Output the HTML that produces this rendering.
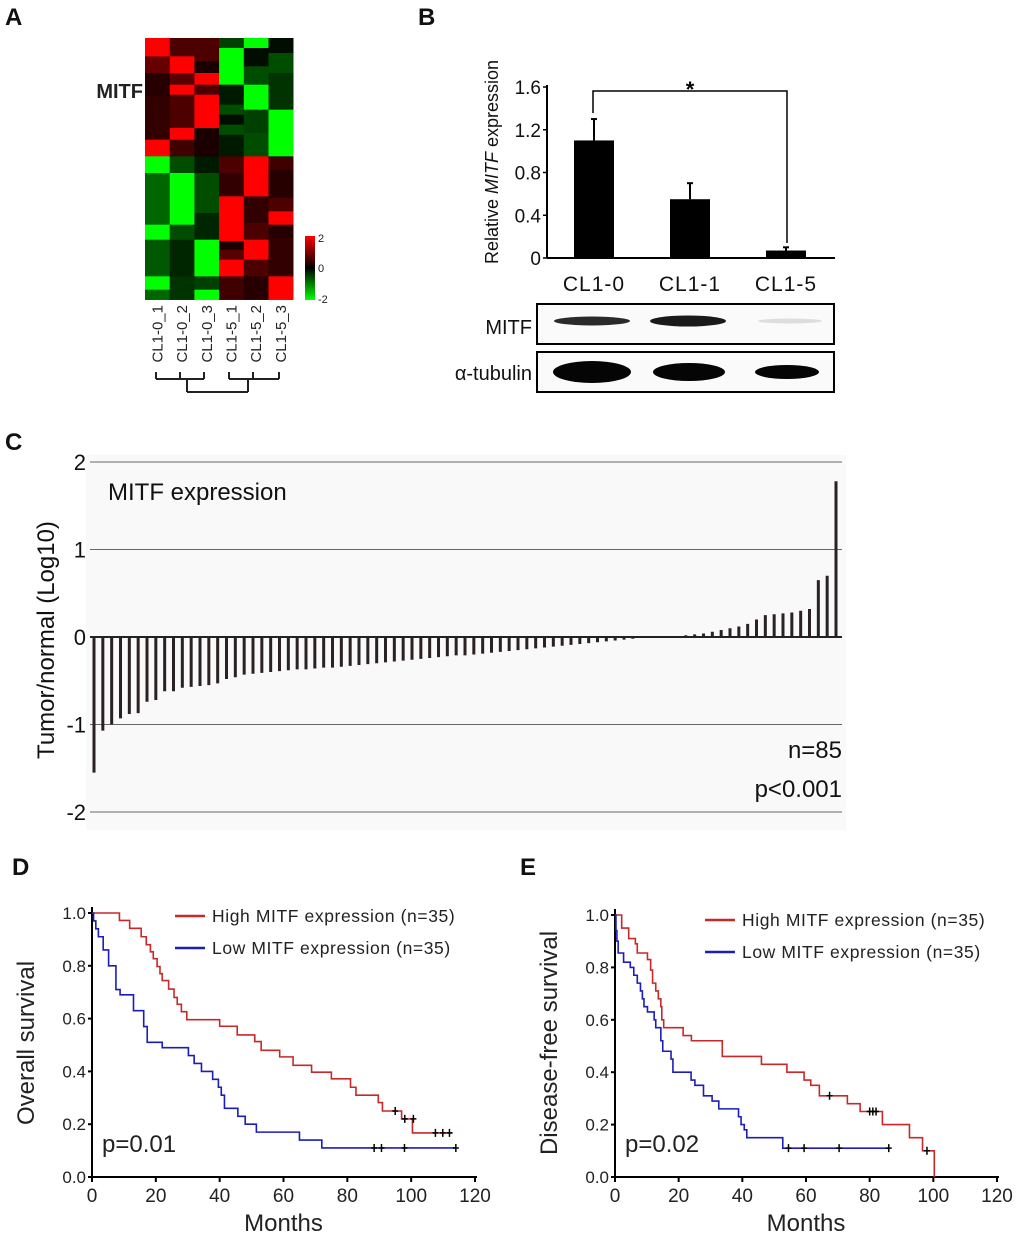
<!DOCTYPE html>
<html><head><meta charset="utf-8"><style>
body{margin:0;background:#fff}
svg{display:block;font-family:"Liberation Sans",Arial,sans-serif}
</style></head><body>
<svg id="fig" width="1020" height="1238" viewBox="0 0 1020 1238" xmlns="http://www.w3.org/2000/svg">
<g font-weight="bold" font-size="24" fill="#111">
<text x="5" y="25">A</text>
<text x="418" y="25">B</text>
<text x="5" y="450">C</text>
<text x="12" y="875">D</text>
<text x="520" y="875">E</text>
</g>
<g id="heat"></g>
<g id="bars"></g>
<g id="blot"></g>
<g id="wf"></g>
<g id="kmd"></g>
<g id="kme"></g>
</svg>
<script>
const heatSamples = ["CL1-0_1","CL1-0_2","CL1-0_3","CL1-5_1","CL1-5_2","CL1-5_3"];
const heatCol1 = [[25,80,2],[80,130,.8],[130,200,.3],[200,330,.4],[330,380,2],[380,430,-2],[430,585,-.8],[585,630,-2],[630,740,-.7],[740,780,-2],[780,810,-.8]];
const heatCol2 = [[25,80,.6],[80,130,2],[130,165,.7],[165,195,2],[195,295,.6],[295,330,2],[330,380,.5],[380,430,-.6],[430,585,-2],[585,630,-.6],[630,740,-.3],[740,810,-.4]];
const heatCol3 = [[25,95,.6],[95,130,.2],[130,165,2],[165,195,.6],[195,295,2],[295,380,.2],[380,430,-.2],[430,550,-.6],[550,630,-.3],[630,740,-2],[740,780,-.5],[780,810,-2]];
const heatCol4 = [[25,55,-.5],[55,165,-2],[165,225,-.2],[225,255,-.6],[255,285,-.1],[285,315,-.6],[315,380,-.2],[380,430,.6],[430,500,.4],[500,635,2],[635,660,.2],[660,690,.7],[690,740,2],[740,810,.5]];
const heatCol5 = [[25,55,-2],[55,110,-.1],[110,165,-.6],[165,240,-2],[240,310,-.5],[310,380,-.6],[380,500,2],[500,580,.4],[580,630,.6],[630,690,2],[690,740,.6],[740,810,.3]];
const heatCol6 = [[25,70,-.1],[70,130,-.6],[130,240,-.4],[240,380,-2],[380,420,.5],[420,505,.3],[505,545,.6],[545,585,2],[585,625,.3],[625,740,.4],[740,810,2]];
const bCats = ["CL1-0","CL1-1","CL1-5"];
const bVals = [1.1,0.55,0.07];
const bErr = [0.2,0.15,0.03];
const bTicks = [0,0.4,0.8,1.2,1.6];
const bTickLabels = ["0","0.4","0.8","1.2","1.6"];
const cVals = [-1.55,-1.07,-1.0,-0.93,-0.88,-0.87,-0.74,-0.72,-0.62,-0.62,
-0.58,-0.57,-0.56,-0.55,-0.53,-0.48,-0.46,-0.43,-0.42,-0.41,
-0.40,-0.39,-0.38,-0.37,-0.37,-0.36,-0.35,-0.35,-0.34,-0.33,
-0.32,-0.31,-0.30,-0.29,-0.28,-0.27,-0.26,-0.25,-0.24,-0.23,
-0.22,-0.21,-0.21,-0.20,-0.19,-0.18,-0.17,-0.16,-0.15,-0.14,
-0.13,-0.12,-0.11,-0.10,-0.09,-0.08,-0.07,-0.06,-0.05,-0.04,-0.03,-0.02,
-0.01,-0.01,-0.005,0,0,
0.02,0.03,0.04,0.06,0.08,0.1,0.12,0.15,0.2,0.25,0.26,0.27,0.28,0.3,0.32,0.65,0.7,1.78];
const cTicks = [2,1,0,-1,-2];
const cTickLabels = ["2","1","0","-1","-2"];
const dHighT = [0,8.6,11.8,15.4,17,18.3,19.2,20.4,21.3,22,24,25.7,26.7,28,29.7,40,45.5,51,53,58.8,63,68.8,75,81,82.7,89.7,91,97,100.4];
const dHighS = [1,.972,.942,.91,.88,.853,.827,.797,.77,.744,.712,.68,.654,.626,.596,.571,.538,.513,.48,.455,.423,.397,.372,.34,.31,.282,.25,.22,.167];
const dHighCensT = [95,98,100.7,107.6,109.9,112];
const dHighCensS = [.25,.22,.22,.167,.167,.167];
const dHighEnd = 113;
const dLowT = [0,0.5,1.2,2,3.5,5.2,7.5,8.8,13,16.2,17.3,22,30.2,32,34.3,37.8,39.6,40.5,41.5,45.7,48,51.5,65,72];
const dLowS = [1,.97,.94,.91,.86,.80,.71,.69,.63,.57,.51,.49,.46,.43,.40,.37,.34,.31,.26,.23,.20,.17,.14,.11];
const dLowCensT = [88.4,90.7,97.9,114];
const dLowCensS = [.11,.11,.11,.11];
const dLowEnd = 114;
const eHighT = [0,2.1,4.3,6.4,7,10.2,11.2,11.8,12.8,13.6,14.4,14.7,15.3,21.4,24,33.7,46,54,59.4,61.5,64.2,73,77,84,92.5,96.6,100.3];
const eHighS = [1,.95,.91,.89,.855,.83,.79,.74,.71,.68,.65,.60,.57,.54,.52,.46,.43,.40,.37,.35,.31,.28,.25,.20,.15,.10,0];
const eHighCensT = [67.4,80,81,82,98];
const eHighCensS = [.31,.25,.25,.25,.10];
const eHighEnd = 100.3;
const eLowT = [0,0.3,0.6,1,2.7,4.8,5.9,7,8,8.6,9.1,10.2,12.3,12.8,14.4,15,17.6,18.2,23.9,25.1,27.8,30.5,32.6,38.8,39.6,40.6,41.4,52.7];
const eLowS = [1,.94,.9,.855,.82,.80,.77,.74,.71,.68,.65,.63,.60,.57,.52,.48,.45,.40,.37,.35,.31,.29,.26,.23,.20,.18,.15,.11];
const eLowCensT = [54.5,59.4,70.4,86];
const eLowCensS = [.11,.11,.11,.11];
const eLowEnd = 86;
const kmXTicks = [0,20,40,60,80,100,120];
const kmYTicks = [0,0.2,0.4,0.6,0.8,1.0];
const kmYTickLabels = ["0.0","0.2","0.4","0.6","0.8","1.0"];

const NS="http://www.w3.org/2000/svg";
function mk(parent,tag,attrs,text){const e=document.createElementNS(NS,tag);for(const k in attrs)e.setAttribute(k,attrs[k]);if(text!==undefined)e.textContent=text;parent.appendChild(e);return e;}

(function(){
const g=document.getElementById('heat');
const x0=145,cw=24.7,zy=y=>38+(y-25)/3;
function col(v){const a=Math.min(1,Math.abs(v)/2);const c=Math.round(255*a);return v>=0?`rgb(${c},0,0)`:`rgb(0,${c},0)`;}
[heatCol1,heatCol2,heatCol3,heatCol4,heatCol5,heatCol6].forEach((segs,i)=>{
 segs.forEach(s=>{const r=mk(g,'rect',{x:x0+i*cw,y:zy(s[0]),width:cw+0.3,height:zy(s[1])-zy(s[0])+0.3,fill:col(s[2])});
 
 });
 const t=mk(g,'text',{x:0,y:0,'font-size':15,fill:'#222','text-anchor':'end',transform:`translate(${x0+i*cw+cw/2+5},305) rotate(-90)`},heatSamples[i]);
 
 
});
const m=mk(g,'text',{x:143,y:98,'font-size':20,'font-weight':'bold','text-anchor':'end',fill:'#222'},'MITF');


const defs=mk(g,'defs',{});const lg=mk(defs,'linearGradient',{id:'cb',x1:0,y1:0,x2:0,y2:1});
mk(lg,'stop',{offset:'0',"stop-color":'#ff0000'});mk(lg,'stop',{offset:'0.5',"stop-color":'#000'});mk(lg,'stop',{offset:'1',"stop-color":'#00ff00'});
const cb=mk(g,'rect',{x:305,y:236,width:10,height:64,fill:'url(#cb)'});


[['2',242],['0',272],['-2',303]].forEach(a=>mk(g,'text',{x:318,y:a[1],'font-size':11,fill:'#222'},a[0]));
const lx=[156,180,204,229,253,279];
const p=mk(g,'path',{d:lx.map(x=>`M${x} 372V379`).join('')+`M156 379H204M229 379H279M187 379V392M248 379V392M187 392H248`,stroke:'#222','stroke-width':2,fill:'none'});


})();

(function(){
const g=document.getElementById('bars');
const ax=547,y0=258,pu=(258-87)/1.6,Y=v=>y0-v*pu;
const cx=[594,690,786],bw=40;
mk(g,'line',{x1:ax,y1:Y(1.6)-2,x2:ax,y2:y0,stroke:'#000','stroke-width':2});
mk(g,'line',{x1:ax,y1:y0,x2:835,y2:y0,stroke:'#000','stroke-width':2});
bTicks.forEach((t,i)=>{mk(g,'line',{x1:ax-4,x2:ax,y1:Y(t),y2:Y(t),stroke:'#000','stroke-width':1.5});
 mk(g,'text',{x:541,y:Y(t)+7,'font-size':19,'text-anchor':'end',fill:'#111'},bTickLabels[i]);});
bVals.forEach((v,i)=>{
 mk(g,'line',{x1:cx[i],x2:cx[i],y1:Y(v),y2:Y(v+bErr[i]),stroke:'#000','stroke-width':2});
 mk(g,'line',{x1:cx[i]-3,x2:cx[i]+3,y1:Y(v+bErr[i]),y2:Y(v+bErr[i]),stroke:'#000','stroke-width':2});
 const r=mk(g,'rect',{x:cx[i]-bw/2,y:Y(v),width:bw,height:y0-Y(v),fill:'#000'});
 
 
 mk(g,'text',{x:cx[i],y:291,'font-size':21,'text-anchor':'middle',fill:'#111','letter-spacing':1},bCats[i]);
});
mk(g,'path',{d:`M593 113V91H787V243`,stroke:'#000','stroke-width':1.5,fill:'none'});
mk(g,'text',{x:690,y:97,'font-size':22,'font-weight':'bold','text-anchor':'middle'},'*');
const t=mk(g,'text',{x:0,y:0,'font-size':18,'text-anchor':'middle',fill:'#111',transform:'translate(498,162) rotate(-90)'});


mk(t,'tspan',{},'Relative ');mk(t,'tspan',{'font-style':'italic'},'MITF');mk(t,'tspan',{},' expression');
})();

(function(){
const g=document.getElementById('blot');
mk(g,'rect',{x:537,y:304,width:297,height:40,fill:'#fafafa',stroke:'#000','stroke-width':2});
mk(g,'rect',{x:537,y:352,width:297,height:40,fill:'#fafafa',stroke:'#000','stroke-width':2});
mk(g,'text',{x:532,y:334,'font-size':20,'text-anchor':'end',fill:'#111'},'MITF');
mk(g,'text',{x:532,y:380,'font-size':20,'text-anchor':'end',fill:'#111'},'α-tubulin');
[[592,38,4.5,'#2a2a2a'],[688,38,5.5,'#1a1a1a'],[790,32,2.5,'#ddd']].forEach(b=>mk(g,'ellipse',{cx:b[0],cy:321,rx:b[1],ry:b[2],fill:b[3]}));
[[592,39,11],[689,36,9],[787,32,7]].forEach(b=>mk(g,'ellipse',{cx:b[0],cy:372,rx:b[1],ry:b[2],fill:'#050505'}));
})();

(function(){
const g=document.getElementById('wf');
const Y=v=>637-v*87.5;
mk(g,'rect',{x:86,y:455,width:760,height:375,fill:'#f9f9f9'});
cTicks.forEach((t,i)=>{
 mk(g,'line',{x1:90,x2:842,y1:Y(t),y2:Y(t),stroke:t===0?'#222':'#666','stroke-width':t===0?2:1});
 mk(g,'text',{x:86,y:Y(t)+8,'font-size':22,'text-anchor':'end',fill:'#111'},cTickLabels[i]);
});
const n=cVals.length,x0=94,x1=836,dx=(x1-x0)/(n-1);
cVals.forEach((v,i)=>{
 const y1=Math.min(Y(0),Y(v)),h=Math.max(0.5,Math.abs(Y(v)-Y(0)));
 const r=mk(g,'rect',{x:x0+i*dx-1.5,y:y1,width:3,height:h,fill:'#2a2222'});
 
 
});
mk(g,'text',{x:108,y:500,'font-size':24,fill:'#111'},'MITF expression');
mk(g,'text',{x:842,y:758,'font-size':24,'text-anchor':'end',fill:'#111'},'n=85');
mk(g,'text',{x:842,y:797,'font-size':24,'text-anchor':'end',fill:'#111'},'p<0.001');
const t=mk(g,'text',{x:0,y:0,'font-size':24,'text-anchor':'middle',fill:'#111',transform:'translate(54,640) rotate(-90)'},'Tumor/normal (Log10)');


})();

function km(id,ox,xr,yTop,title,pval,hi,lo,legX,legY){
const g=document.getElementById(id);
const yb=1177,X=m=>ox+m*(xr-ox)/120,Y=s=>yb-s*(yb-yTop);
mk(g,'line',{x1:ox,x2:ox,y1:yTop-6,y2:yb,stroke:'#000','stroke-width':2});
mk(g,'line',{x1:ox,x2:X(120)+2,y1:yb,y2:yb,stroke:'#000','stroke-width':2});
kmXTicks.forEach(t=>{mk(g,'line',{x1:X(t),x2:X(t),y1:yb,y2:yb+5,stroke:'#000','stroke-width':2});
 mk(g,'text',{x:X(t),y:1202,'font-size':19,'text-anchor':'middle',fill:'#222'},String(t));});
kmYTicks.forEach((t,i)=>{mk(g,'line',{x1:ox-4,x2:ox,y1:Y(t),y2:Y(t),stroke:'#000','stroke-width':2});
 mk(g,'text',{x:ox-6,y:Y(t)+6,'font-size':17,'text-anchor':'end',fill:'#222'},kmYTickLabels[i]);});
[hi,lo].forEach(s=>{
 let d=`M${X(s.t[0])} ${Y(s.s[0])}`;
 for(let i=1;i<s.t.length;i++){d+=`H${X(s.t[i])}V${Y(s.s[i])}`;}
 d+=`H${X(s.end)}`;
 const p=mk(g,'path',{d,stroke:s.c,'stroke-width':1.6,fill:'none'});
 
 
 s.ct.forEach((c,i)=>{const cx=X(c),cy=Y(s.cs[i]);mk(g,'path',{d:`M${cx-3} ${cy}H${cx+3}M${cx} ${cy-4}V${cy+4}`,stroke:'#000','stroke-width':1.5});});
});
mk(g,'line',{x1:legX,x2:legX+30,y1:legY,y2:legY,stroke:'#c8282a','stroke-width':2.5});
mk(g,'line',{x1:legX,x2:legX+30,y1:legY+32,y2:legY+32,stroke:'#1c1cbb','stroke-width':2.5});
mk(g,'text',{x:legX+37,y:legY+6,'font-size':17.5,fill:'#222','letter-spacing':0.6,'xml:space':'preserve'},'High MITF expression  (n=35)');
mk(g,'text',{x:legX+37,y:legY+38,'font-size':17.5,fill:'#222','letter-spacing':0.6,'xml:space':'preserve'},'Low MITF expression  (n=35)');
mk(g,'text',{x:X(60),y:1231,'font-size':24,'text-anchor':'middle',fill:'#222'},'Months');
mk(g,'text',{x:ox+10,y:1152,'font-size':24,fill:'#222'},pval);
const t=mk(g,'text',{x:0,y:0,'font-size':24,'text-anchor':'middle',fill:'#222',transform:`translate(${ox-58},1043) rotate(-90)`},title);


}
km('kmd',92,475,913,'Overall survival','p=0.01',
 {t:dHighT,s:dHighS,ct:dHighCensT,cs:dHighCensS,end:dHighEnd,c:'#c8282a',name:'high-mitf-curve'},
 {t:dLowT,s:dLowS,ct:dLowCensT,cs:dLowCensS,end:dLowEnd,c:'#1c1cbb',name:'low-mitf-curve'},175,916);
km('kme',615,997,915,'Disease-free survival','p=0.02',
 {t:eHighT,s:eHighS,ct:eHighCensT,cs:eHighCensS,end:eHighEnd,c:'#c8282a',name:'high-mitf-curve'},
 {t:eLowT,s:eLowS,ct:eLowCensT,cs:eLowCensS,end:eLowEnd,c:'#1c1cbb',name:'low-mitf-curve'},705,920);
</script>
</body></html>
